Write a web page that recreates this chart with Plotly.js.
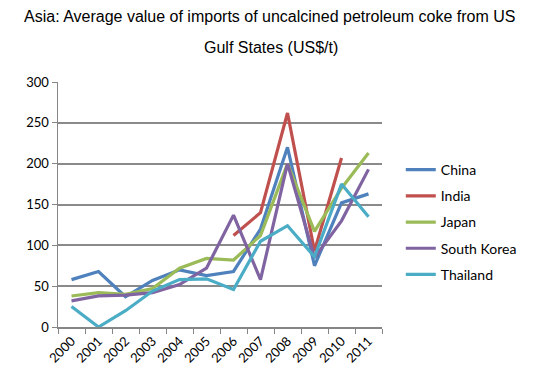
<!DOCTYPE html>
<html><head><meta charset="utf-8">
<script src="https://cdn.plot.ly/plotly-3.0.1.min.js"></script>
<style>html,body{margin:0;padding:0;background:#fff}#c{width:534px;height:382px}</style>
</head><body><div id="c"></div>
<script>
const years = ['2000','2001','2002','2003','2004','2005','2006','2007','2008','2009','2010','2011'];
const seriesNames = ['China','India','Japan','South Korea','Thailand'];
const china = [58, 68, 37, 57, 70, 63, 68, 120, 220, 75, 152, 163];
const india = [null, null, null, null, null, null, 112, 140, 262, 93, 207, null];
const japan = [38, 42, 40, 47, 72, 84, 82, 112, 200, 117, 170, 213];
const southKorea = [32, 38, 39, 42, 52, 72, 137, 58, 200, 85, 130, 193];
const thailand = [25, 0, 20, 44, 58, 59, 46, 105, 124, 86, 175, 135];
const colors = ['#4F81BD','#C0504D','#9BBB59','#8064A2','#4BACC6'];
const values = [china, india, japan, southKorea, thailand];

const traces = values.map((v,i)=>({
  type:'scatter', mode:'lines', x: years, y: v, name: seriesNames[i], legendgroup:'g'+i,
  line:{color:colors[i], width:3.2}, connectgaps:false
}));

const layout = {
  width:534, height:382,
  margin:{l:58, r:137, t:82, b:55},
  paper_bgcolor:'#fff', plot_bgcolor:'#fff',
  font:{family:'Lato, "Open Sans", sans-serif', size:12, color:'#000'},
  showlegend:true,
  legend:{x:1.058, y:0.706, xanchor:'left', yanchor:'top', font:{size:14}, traceorder:'grouped', tracegroupgap:5, itemwidth:30},
  xaxis:{type:'category', tickson:'boundaries', ticks:'outside', ticklen:5, tickcolor:'#868686',
    showline:true, linecolor:'#868686', linewidth:1.5, showgrid:false, tickangle:-45,
    tickfont:{size:13}, range:[-0.5, 11.5], fixedrange:true},
  yaxis:{range:[0,300], dtick:50, ticks:'outside', ticklen:5, tickcolor:'#868686',
    showline:true, linecolor:'#868686', linewidth:1.5, showgrid:true, gridcolor:'#8a8a8a', gridwidth:2,
    zeroline:false, tickfont:{size:13}},
  annotations:[
    {text:'Asia: Average value of imports of uncalcined petroleum coke from US', xref:'paper', yref:'paper',
     x:(280-58)/339, y:(382-17-55)/245, xanchor:'center', yanchor:'middle', showarrow:false,
     font:{family:'"Liberation Sans", Arial, sans-serif', size:16}},
    {text:'Gulf States (US$/t)', xref:'paper', yref:'paper',
     x:(281-58)/339, y:(382-47-55)/245, xanchor:'center', yanchor:'middle', showarrow:false,
     font:{family:'"Liberation Sans", Arial, sans-serif', size:16}}
  ]
};
Plotly.newPlot('c', traces, layout, {displayModeBar:false, staticPlot:true});
</script></body></html>
